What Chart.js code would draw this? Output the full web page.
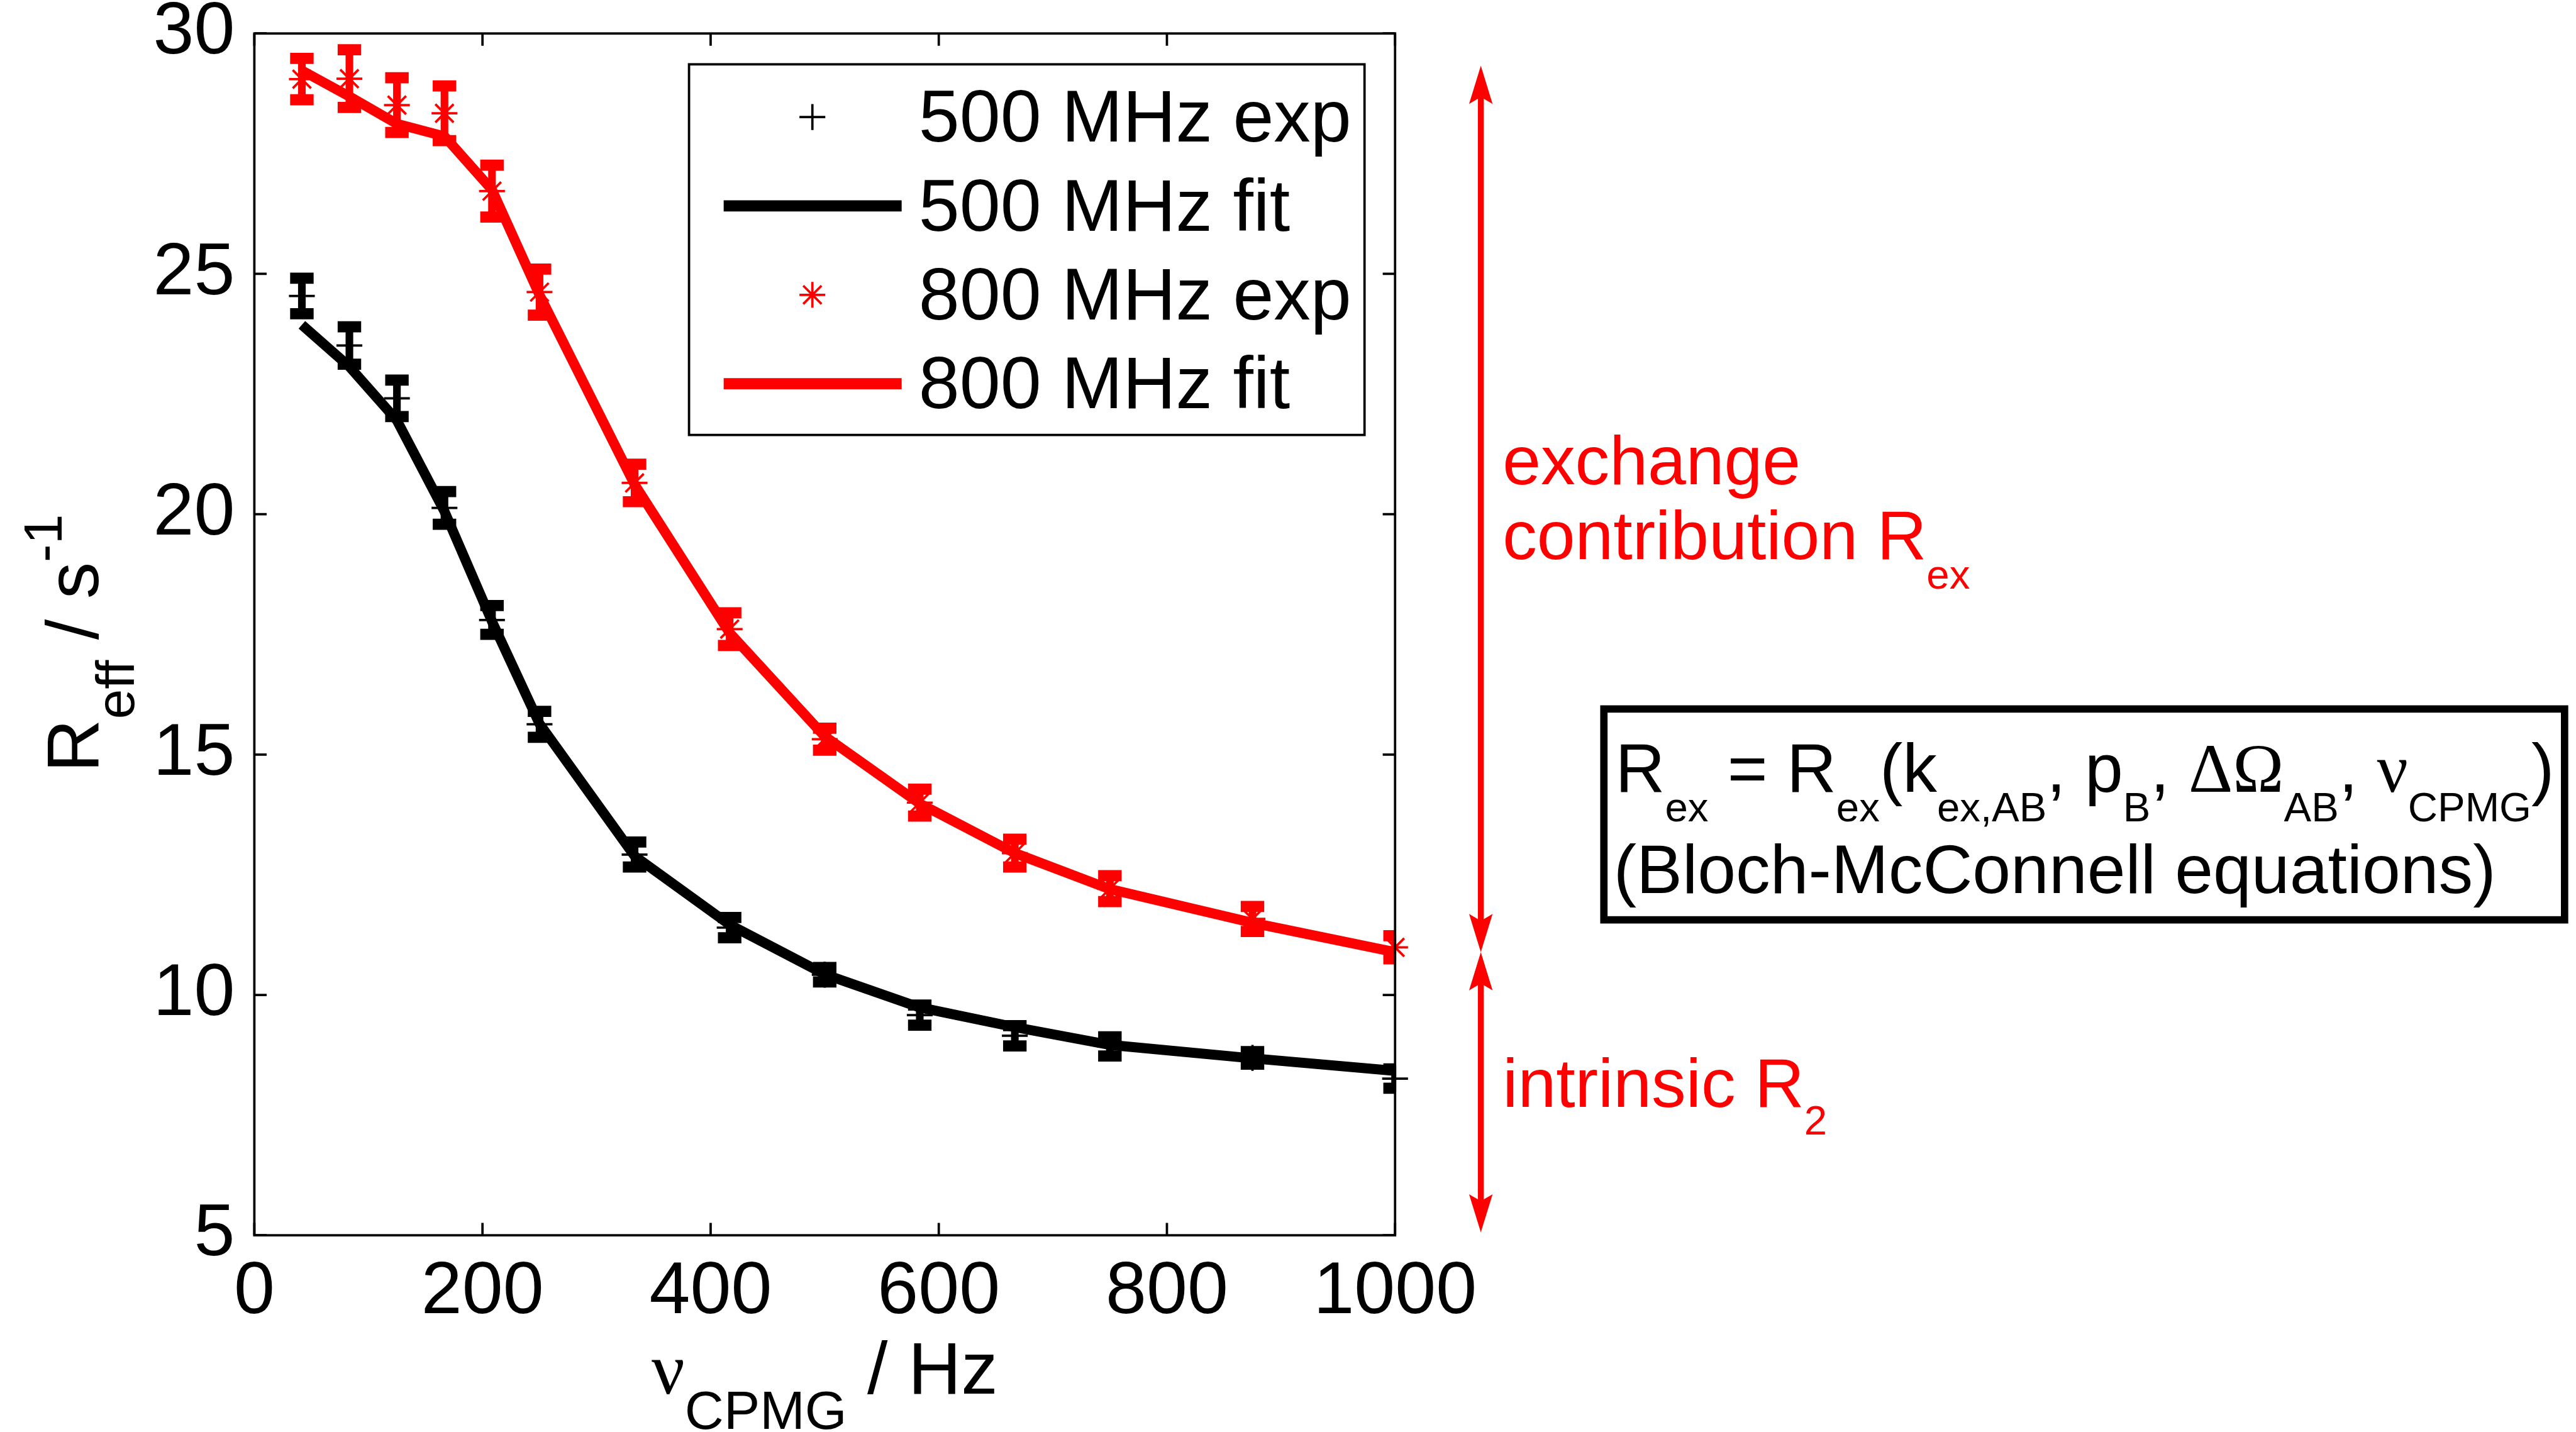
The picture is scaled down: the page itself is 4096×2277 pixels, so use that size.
<!DOCTYPE html>
<html>
<head>
<meta charset="utf-8">
<script src="https://cdn.jsdelivr.net/npm/chart.js@4.4.1/dist/chart.umd.min.js"></script>
<style>
html,body{margin:0;padding:0;background:#ffffff;overflow:hidden;}
#c{display:block;}
</style>
</head>
<body>
<canvas id="c" width="4096" height="2277"></canvas>
<script>
// ---------------- data ----------------
const nuCPMG = [41.67, 83.33, 125, 166.67, 208.33, 250, 333.33, 416.67, 500, 583.33, 666.67, 750, 875, 1000];

const exp500 = [24.54, 23.51, 22.41, 20.13, 17.80, 15.63, 12.92, 11.40, 10.42, 9.58, 9.15, 8.93, 8.69, 8.26];
const err500 = [0.37, 0.39, 0.38, 0.34, 0.30, 0.27, 0.26, 0.21, 0.15, 0.21, 0.21, 0.20, 0.13, 0.20];
const fit500 = [23.94, 23.07, 21.95, 20.06, 17.77, 15.64, 12.89, 11.46, 10.43, 9.74, 9.33, 8.96, 8.68, 8.42];

const exp800 = [29.05, 29.06, 28.51, 28.34, 26.72, 24.62, 20.65, 17.61, 15.32, 14.00, 12.95, 12.21, 11.58, 10.99];
const err800 = [0.43, 0.60, 0.57, 0.57, 0.54, 0.48, 0.39, 0.34, 0.23, 0.28, 0.29, 0.27, 0.26, 0.24];
const fit800 = [29.23, 28.69, 28.12, 27.86, 26.75, 24.56, 20.62, 17.53, 15.38, 13.98, 12.95, 12.20, 11.50, 10.89];

const xTicks = [0, 200, 400, 600, 800, 1000];
const yTicks = [5, 10, 15, 20, 25, 30];
const legendLabels = ['500 MHz exp', '500 MHz fit', '800 MHz exp', '800 MHz fit'];
const arrowValues = [29.33, 5.06]; // top and bottom of the annotation arrows (the middle is the last 800 MHz fit value)

// ---------------- styling ----------------
const S = 0.934;
const RED = '#ff0000', BLACK = '#000000';
const F_AX = (125 * S) + 'px "Liberation Sans", Arial, sans-serif';
const F_AXSUB = (92 * S) + 'px "Liberation Sans", Arial, sans-serif';
const F_AXGR = (125 * S) + 'px "Liberation Serif", "Times New Roman", serif';
const F_AN = (117 * S) + 'px "Liberation Sans", Arial, sans-serif';
const F_ANSUB = (70 * S) + 'px "Liberation Sans", Arial, sans-serif';
const F_ANGR = (117 * S) + 'px "Liberation Serif", "Times New Roman", serif';

const pts = (xs, ys) => xs.map((x, i) => ({ x: x, y: ys[i] }));

function runs(ctx, list, x, y, align) {
  let w = 0;
  list.forEach(r => { ctx.font = r.f; r.w = ctx.measureText(r.t).width; w += r.w; });
  let cx = align === 'center' ? x - w / 2 : x;
  list.forEach(r => { ctx.font = r.f; ctx.fillText(r.t, cx, y + (r.dy || 0)); cx += r.w; });
  return w;
}

function arrowHead(ctx, x, tipY, dir, len, halfW) {
  // dir = -1 : pointing up, +1 : pointing down
  const baseY = tipY - dir * len;
  const notchY = baseY + dir * len * 0.18;
  ctx.beginPath();
  ctx.moveTo(x, tipY);
  ctx.lineTo(x - halfW, baseY);
  ctx.lineTo(x, notchY);
  ctx.lineTo(x + halfW, baseY);
  ctx.closePath();
  ctx.fill();
}

function marker(ctx, style, x, y, r, lw, color) {
  ctx.save();
  ctx.strokeStyle = color;
  ctx.lineWidth = lw;
  ctx.lineCap = 'butt';
  ctx.beginPath();
  ctx.moveTo(x - r, y); ctx.lineTo(x + r, y);
  ctx.moveTo(x, y - r); ctx.lineTo(x, y + r);
  if (style === 'star') {
    const d = r * Math.SQRT1_2;
    ctx.moveTo(x - d, y - d); ctx.lineTo(x + d, y + d);
    ctx.moveTo(x - d, y + d); ctx.lineTo(x + d, y - d);
  }
  ctx.stroke();
  ctx.restore();
}

function drawErrorBars(ctx, chart, xs, ys, es, color) {
  const xS = chart.scales.x, yS = chart.scales.y;
  const ca = chart.chartArea;
  ctx.save();
  ctx.beginPath();
  ctx.rect(ca.left, ca.top, ca.right - ca.left, ca.bottom - ca.top);
  ctx.clip();
  ctx.strokeStyle = color;
  ctx.lineCap = 'butt';
  xs.forEach((x, i) => {
    const px = xS.getPixelForValue(x);
    const pTop = yS.getPixelForValue(ys[i] + es[i]);
    const pBot = yS.getPixelForValue(ys[i] - es[i]);
    ctx.lineWidth = 13 * S;
    ctx.beginPath(); ctx.moveTo(px, pTop); ctx.lineTo(px, pBot); ctx.stroke();
    const hw = 20 * S;
    ctx.lineWidth = 19 * S;
    ctx.beginPath(); ctx.moveTo(px - hw, pTop); ctx.lineTo(px + hw, pTop); ctx.stroke();
    ctx.beginPath(); ctx.moveTo(px - hw, pBot); ctx.lineTo(px + hw, pBot); ctx.stroke();
  });
  ctx.restore();
}

const decor = {
  id: 'decor',
  beforeDatasetsDraw(chart) {
    const ctx = chart.ctx;
    drawErrorBars(ctx, chart, nuCPMG, exp500, err500, BLACK);
    drawErrorBars(ctx, chart, nuCPMG, exp800, err800, RED);
  },
  afterDraw(chart) {
    const ctx = chart.ctx;
    const ca = chart.chartArea;
    const xS = chart.scales.x, yS = chart.scales.y;
    ctx.save();
    ctx.textAlign = 'left';
    ctx.textBaseline = 'alphabetic';

    // frame with inward ticks on all four sides
    ctx.strokeStyle = BLACK;
    ctx.lineWidth = 4 * S;
    ctx.strokeRect(ca.left, ca.top, ca.right - ca.left, ca.bottom - ca.top);
    const tl = 21 * S;
    ctx.beginPath();
    xS.ticks.forEach(t => {
      const p = xS.getPixelForValue(t.value);
      ctx.moveTo(p, ca.bottom); ctx.lineTo(p, ca.bottom - tl);
      ctx.moveTo(p, ca.top); ctx.lineTo(p, ca.top + tl);
    });
    yS.ticks.forEach(t => {
      const p = yS.getPixelForValue(t.value);
      ctx.moveTo(ca.left, p); ctx.lineTo(ca.left + tl, p);
      ctx.moveTo(ca.right, p); ctx.lineTo(ca.right - tl, p);
    });
    ctx.stroke();

    // legend
    ctx.lineWidth = 4 * S;
    ctx.strokeRect(1173 * S, 109.5 * S, (2323 - 1173) * S, (740.5 - 109.5) * S);
    const ds = chart.data.datasets;
    const order = [2, 0, 3, 1];
    order.forEach((di, i) => {
      const d = ds[di];
      const base = (241.3 + 151.3 * i) * S;
      const cy = base - 42 * S;
      const cx = 1383 * S;
      if (d.showLine) {
        ctx.strokeStyle = d.borderColor;
        ctx.lineWidth = 19 * S;
        ctx.lineCap = 'butt';
        ctx.beginPath(); ctx.moveTo(1232 * S, cy); ctx.lineTo(1535 * S, cy); ctx.stroke();
      } else {
        marker(ctx, d.pointStyle, cx, cy, d.pointRadius, d.borderWidth, d.borderColor);
      }
      ctx.fillStyle = BLACK;
      ctx.font = F_AX;
      ctx.fillText(d.label, 1564 * S, base);
    });

    // x-axis title
    ctx.fillStyle = BLACK;
    runs(ctx, [
      { t: 'ν', f: F_AXGR },
      { t: 'CPMG', f: F_AXSUB, dy: 60 * S },
      { t: ' / Hz', f: F_AX }
    ], (ca.left + ca.right) / 2, 2373 * S, 'center');

    // y-axis title (rotated)
    ctx.save();
    ctx.translate(167 * S, 1095 * S);
    ctx.rotate(-Math.PI / 2);
    runs(ctx, [
      { t: 'R', f: F_AX },
      { t: 'eff', f: F_AXSUB, dy: 61 * S },
      { t: ' / s', f: F_AX },
      { t: '-1', f: F_AXSUB, dy: -62 * S }
    ], 0, 0, 'center');
    ctx.restore();

    // double arrows
    const ax = 2521 * S;
    const yTop = yS.getPixelForValue(arrowValues[0]);
    const yMid = yS.getPixelForValue(fit800[fit800.length - 1]);
    const yBot = yS.getPixelForValue(arrowValues[1]);
    const hl = 65 * S, hw = 20 * S;
    ctx.strokeStyle = RED; ctx.fillStyle = RED;
    ctx.lineWidth = 10 * S;
    ctx.lineCap = 'butt';
    ctx.beginPath();
    ctx.moveTo(ax, yTop + hl * 0.8); ctx.lineTo(ax, yMid - hl * 0.8);
    ctx.moveTo(ax, yMid + hl * 0.8); ctx.lineTo(ax, yBot - hl * 0.8);
    ctx.stroke();
    arrowHead(ctx, ax, yTop, -1, hl, hw);
    arrowHead(ctx, ax, yMid, 1, hl, hw);
    arrowHead(ctx, ax, yMid, -1, hl, hw);
    arrowHead(ctx, ax, yBot, 1, hl, hw);

    // red annotation texts
    ctx.fillStyle = RED;
    const tx = 2558 * S;
    runs(ctx, [{ t: 'exchange', f: F_AN }], tx, 824 * S);
    runs(ctx, [{ t: 'contribution R', f: F_AN }, { t: 'ex', f: F_ANSUB, dy: 50 * S }], tx, 952 * S);
    runs(ctx, [{ t: 'intrinsic R', f: F_AN }, { t: '2', f: F_ANSUB, dy: 48 * S }], tx, 1884 * S);

    // formula box
    ctx.strokeStyle = BLACK;
    ctx.lineWidth = 12.5 * S;
    ctx.strokeRect(2730.5 * S, 1207 * S, (4366 - 2730.5) * S, (1566 - 1207) * S);
    ctx.fillStyle = BLACK;
    const sd = 50 * S;
    runs(ctx, [
      { t: 'R', f: F_AN }, { t: 'ex', f: F_ANSUB, dy: sd },
      { t: ' = R', f: F_AN }, { t: 'ex', f: F_ANSUB, dy: sd },
      { t: '(k', f: F_AN }, { t: 'ex,AB', f: F_ANSUB, dy: sd },
      { t: ', p', f: F_AN }, { t: 'B', f: F_ANSUB, dy: sd },
      { t: ', ', f: F_AN }, { t: 'ΔΩ', f: F_ANGR }, { t: 'AB', f: F_ANSUB, dy: sd },
      { t: ', ', f: F_AN }, { t: 'ν', f: F_ANGR }, { t: 'CPMG', f: F_ANSUB, dy: sd },
      { t: ')', f: F_AN }
    ], 2750 * S, 1348 * S);
    runs(ctx, [{ t: '(Bloch-McConnell equations)', f: F_AN }], 2747 * S, 1520 * S);

    ctx.restore();
  }
};

const axisFit = (w, h) => (s) => {
  if (w !== null) s.width = w;
  if (h !== null) s.height = h;
  s.paddingLeft = 0; s.paddingRight = 0; s.paddingTop = 0; s.paddingBottom = 0;
};

const chart = new Chart(document.getElementById('c'), {
  type: 'scatter',
  data: {
    datasets: [
      { label: legendLabels[1], data: pts(nuCPMG, fit500), showLine: true, borderColor: BLACK, backgroundColor: BLACK,
        borderWidth: 17 * S, pointRadius: 0, pointHoverRadius: 0, borderJoinStyle: 'round', tension: 0, order: 3 },
      { label: legendLabels[3], data: pts(nuCPMG, fit800), showLine: true, borderColor: RED, backgroundColor: RED,
        borderWidth: 17 * S, pointRadius: 0, pointHoverRadius: 0, borderJoinStyle: 'round', tension: 0, order: 4 },
      { label: legendLabels[0], data: pts(nuCPMG, exp500), showLine: false, pointStyle: 'cross', borderColor: BLACK,
        backgroundColor: BLACK, pointRadius: 22 * S, pointHoverRadius: 22 * S, borderWidth: 4 * S, clip: false, order: 1 },
      { label: legendLabels[2], data: pts(nuCPMG, exp800), showLine: false, pointStyle: 'star', borderColor: RED,
        backgroundColor: RED, pointRadius: 22 * S, pointHoverRadius: 22 * S, borderWidth: 4 * S, clip: false, order: 2 }
    ]
  },
  options: {
    responsive: false,
    devicePixelRatio: 1,
    animation: false,
    events: [],
    layout: { padding: { left: 0, top: 57 * S, right: 4096 - 2375 * S, bottom: 0 } },
    plugins: { legend: { display: false }, tooltip: { enabled: false }, title: { display: false } },
    scales: {
      x: {
        type: 'linear', position: 'bottom', min: 0, max: 1000,
        afterBuildTicks: s => { s.ticks = xTicks.map(v => ({ value: v })); },
        afterFit: axisFit(null, 2277 - 2103 * S),
        grid: { display: false, drawTicks: false },
        border: { display: false },
        ticks: { color: BLACK, padding: 22, maxRotation: 0, autoSkip: false,
                 callback: v => String(v),
                 font: { family: '"Liberation Sans", Arial, sans-serif', size: 125 * S, lineHeight: 1.2 } }
      },
      y: {
        type: 'linear', position: 'left', min: 5, max: 30,
        afterBuildTicks: s => { s.ticks = yTicks.map(v => ({ value: v })); },
        afterFit: axisFit(433 * S, null),
        grid: { display: false, drawTicks: false },
        border: { display: false },
        ticks: { color: BLACK, padding: 31, autoSkip: false,
                 callback: v => String(v),
                 font: { family: '"Liberation Sans", Arial, sans-serif', size: 125 * S, lineHeight: 1.2 } }
      }
    }
  },
  plugins: [decor]
});
</script>
</body>
</html>
